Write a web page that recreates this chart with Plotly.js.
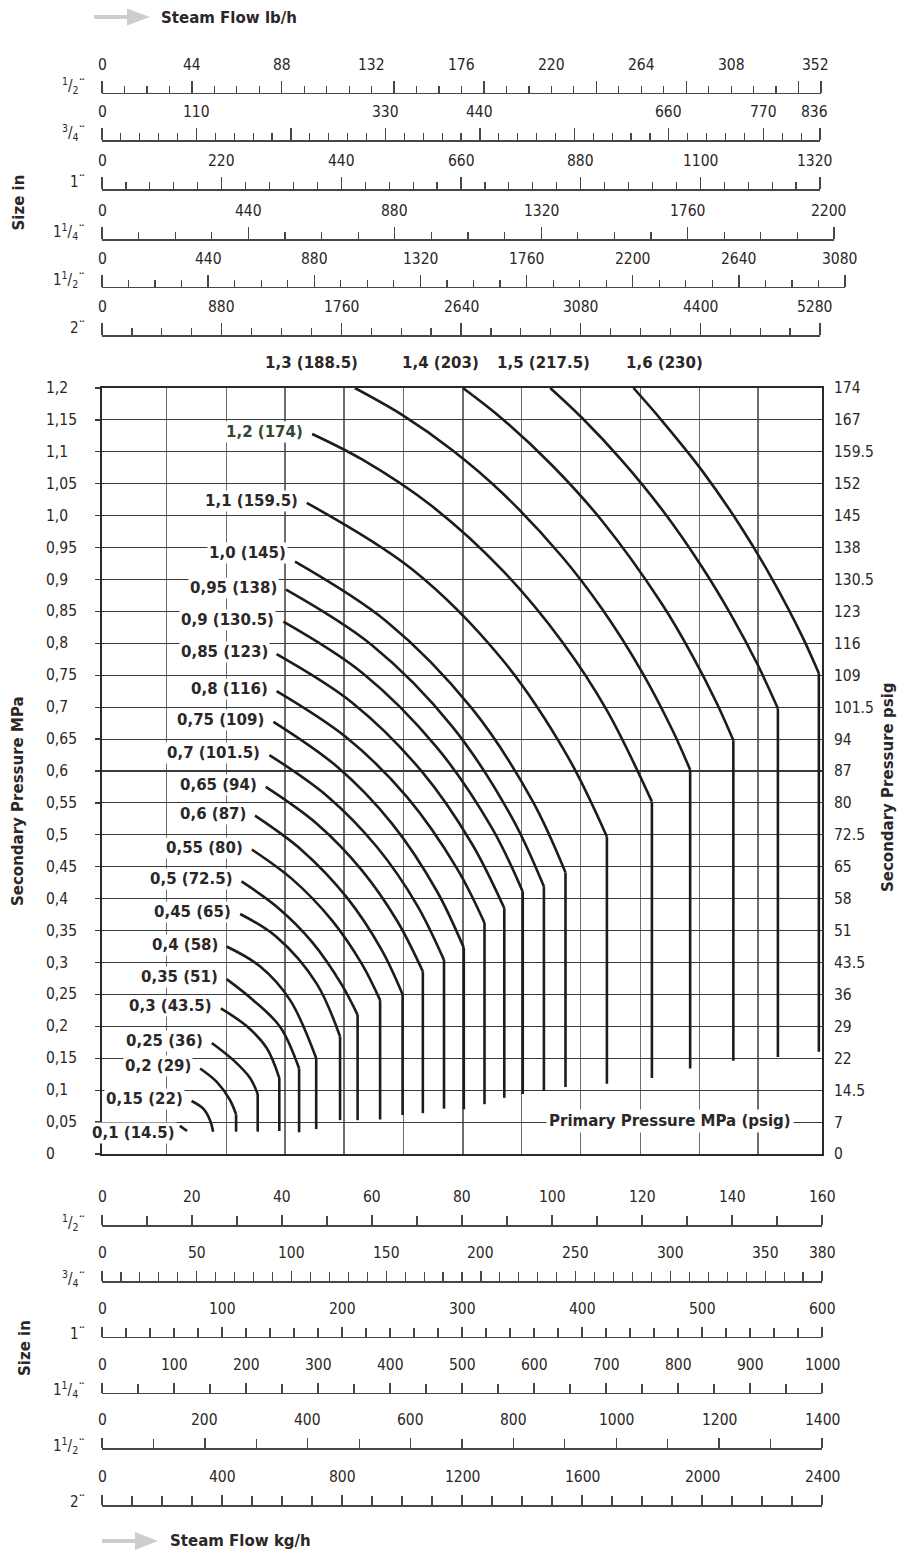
<!DOCTYPE html>
<html><head><meta charset="utf-8">
<script src="https://cdn.plot.ly/plotly-3.0.1.min.js"></script>
<style>html,body{margin:0;padding:0;background:#fff}#chart{width:913px;height:1562px}</style>
</head><body><div id="chart"></div>
<script>
// ===== DATA =====
// Secondary pressure curves: MPa (psig)
const curveLabels = ['0,1 (14.5)','0,15 (22)','0,2 (29)','0,25 (36)','0,3 (43.5)','0,35 (51)','0,4 (58)','0,45 (65)',
  '0,5 (72.5)','0,55 (80)','0,6 (87)','0,65 (94)','0,7 (101.5)','0,75 (109)','0,8 (116)','0,85 (123)','0,9 (130.5)',
  '0,95 (138)','1,0 (145)','1,1 (159.5)','1,2 (174)','1,3 (188.5)','1,4 (203)','1,5 (217.5)','1,6 (230)'];
// curved part: x = flow (kg/h, 1/2" scale), y = secondary pressure MPa
const arcX = [
 [17.3, 18.9],
 [19.9, 22.5, 24.0, 24.7],
 [21.8, 25.5, 28.4, 29.8],
 [24.4, 29.2, 32.9, 34.6],
 [26.4, 32.2, 36.6, 39.4],
 [27.7, 33.6, 39.6, 43.8],
 [27.7, 35.1, 41.8, 47.6],
 [30.7, 38.8, 47.7, 52.9],
 [31.0, 38.9, 46.7, 53.3, 56.8],
 [33.3, 42.2, 51.1, 57.8, 61.8],
 [34.0, 44.4, 54.4, 62.2, 66.8],
 [36.4, 47.8, 57.8, 65.6, 71.3],
 [37.2, 50.0, 61.1, 70.0, 76.0],
 [38.1, 52.2, 64.4, 74.4, 80.4],
 [38.8, 54.4, 67.8, 78.9, 85.0],
 [38.8, 55.6, 71.1, 82.2, 89.4],
 [40.3, 57.8, 74.4, 86.7, 93.5],
 [40.9, 60.0, 77.8, 91.1, 98.2],
 [42.9, 63.3, 82.2, 95.6, 103.0],
 [45.5, 68.9, 88.9, 103.3, 112.2],
 [46.7, 57.8, 73.3, 88.9, 102.2, 112.2, 122.2],
 [56.2, 66.7, 77.8, 88.9, 102.2, 111.1, 120.0, 126.7, 130.7],
 [80.2, 88.9, 100.0, 111.1, 124.4, 131.1, 136.7, 140.3],
 [99.6, 106.7, 115.6, 124.4, 133.3, 140.0, 145.6, 150.2],
 [118.1, 124.4, 133.3, 142.2, 148.9, 155.6, 159.3]
];
const arcY = [
 [0.044, 0.036],
 [0.083, 0.071, 0.053, 0.035],
 [0.134, 0.113, 0.085, 0.062],
 [0.174, 0.147, 0.119, 0.094],
 [0.228, 0.200, 0.166, 0.119],
 [0.274, 0.241, 0.199, 0.134],
 [0.325, 0.294, 0.241, 0.150],
 [0.376, 0.340, 0.267, 0.184],
 [0.427, 0.387, 0.332, 0.265, 0.218],
 [0.477, 0.431, 0.366, 0.297, 0.241],
 [0.530, 0.476, 0.402, 0.319, 0.250],
 [0.575, 0.517, 0.444, 0.365, 0.286],
 [0.625, 0.561, 0.481, 0.390, 0.304],
 [0.677, 0.607, 0.518, 0.412, 0.323],
 [0.725, 0.652, 0.559, 0.447, 0.362],
 [0.783, 0.707, 0.599, 0.486, 0.385],
 [0.834, 0.754, 0.637, 0.510, 0.411],
 [0.884, 0.797, 0.670, 0.527, 0.419],
 [0.928, 0.834, 0.698, 0.554, 0.441],
 [1.020, 0.916, 0.775, 0.625, 0.497],
 [1.128, 1.088, 1.015, 0.915, 0.803, 0.695, 0.552],
 [1.200, 1.158, 1.103, 1.036, 0.936, 0.854, 0.755, 0.665, 0.602],
 [1.200, 1.152, 1.079, 0.992, 0.862, 0.782, 0.705, 0.648],
 [1.200, 1.153, 1.086, 1.010, 0.920, 0.842, 0.768, 0.698],
 [1.200, 1.149, 1.071, 0.980, 0.901, 0.811, 0.753]
];
// lower end of the vertical part of each curve (MPa)
const dropEndY = [0.036,0.035,0.035,0.035,0.036,0.034,0.039,0.053,0.053,0.054,0.061,0.064,0.071,0.070,0.078,
  0.088,0.094,0.099,0.105,0.110,0.119,0.134,0.146,0.152,0.160];

const yTickVals = [0,0.05,0.1,0.15,0.2,0.25,0.3,0.35,0.4,0.45,0.5,0.55,0.6,0.65,0.7,0.75,0.8,0.85,0.9,0.95,1.0,1.05,1.1,1.15,1.2];
const yTickText = ['0','0,05','0,1','0,15','0,2','0,25','0,3','0,35','0,4','0,45','0,5','0,55','0,6','0,65','0,7','0,75',
  '0,8','0,85','0,9','0,95','1,0','1,05','1,1','1,15','1,2'];
const psigText = ['0','7','14.5','22','29','36','43.5','51','58','65','72.5','80','87','94','101.5','109','116','123',
  '130.5','138','145','152','159.5','167','174'];
const gridX = [14.4, 27.6, 40.7, 53.8, 67.0, 80.2, 93.3, 106.4, 119.6, 132.7, 145.8];

const sizeLabels = ['<sup>1</sup>/<sub>2</sub>¨','<sup>3</sup>/<sub>4</sub>¨','1¨','1<sup>1</sup>/<sub>4</sub>¨','1<sup>1</sup>/<sub>2</sub>¨','2¨'];

// Steam flow lb/h scales (top)
const lbMax = [352, 836, 1320, 2200, 3080, 5280];
const lbLabelVals = [[0,44,88,132,176,220,264,308,352],[0,110,330,440,660,770,836],[0,220,440,660,880,1100,1320],
  [0,440,880,1320,1760,2200],[0,440,880,1320,1760,2200,2640,3080],[0,880,1760,2640,3520,4400,5280]];
const lbLabelText = [['0','44','88','132','176','220','264','308','352'],['0','110','330','440','660','770','836'],
  ['0','220','440','660','880','1100','1320'],['0','440','880','1320','1760','2200'],
  ['0','440','880','1320','1760','2200','2640','3080'],['0','880','1760','2640','3080','4400','5280']];
const lbMajorTicks = [[0,44,88,143,187,242,286,341,352],[0,110,220,330,440,550,660,770,836],[0,220,440,660,880,1100,1320],
  [0,440,880,1320,1760,2200],[0,440,880,1320,1760,2200,2640,3080],[0,880,1760,2640,3520,4400,5280]];
const lbMinorStep = [11, 22, 44, 110, 110, 220];

// Steam flow kg/h scales (bottom)
const kgMax = [160, 380, 600, 1000, 1400, 2400];
const kgLabelVals = [[0,20,40,60,80,100,120,140,160],[0,50,100,150,200,250,300,350,380],[0,100,200,300,400,500,600],
  [0,100,200,300,400,500,600,700,800,900,1000],[0,200,400,600,800,1000,1200,1400],[0,400,800,1200,1600,2000,2400]];
const kgMinorStep = [10, 10, 20, 50, 100, 100];

// ===== LAYOUT HELPERS =====
const H = 1562, PL = 102, PW = 748;
const X = px => (px - PL) / PW;
const Y = py => 1 - py / H;
const NARROW = '"Liberation Sans Narrow", "DejaVu Sans Condensed", "Liberation Sans", sans-serif';
const BOLD = '"DejaVu Sans", Verdana, sans-serif';
const TXT = '#2b2727', SC = '#4b4646', CURVE = '#201b1b';
const TICKFS = 15.5;

const traces = [];
const annotations = [];
const shapes = [];

// curves
for (let i = 0; i < arcX.length; i++) {
  traces.push({type:'scatter', mode:'lines', x: arcX[i], y: arcY[i], xaxis:'x', yaxis:'y',
    line:{color:CURVE, width:2.6, shape:'spline', smoothing:1}, hoverinfo:'skip'});
  const n = arcX[i].length - 1;
  if (dropEndY[i] < arcY[i][n] - 0.002) {
    traces.push({type:'scatter', mode:'lines', x:[arcX[i][n], arcX[i][n]], y:[arcY[i][n], dropEndY[i]],
      xaxis:'x', yaxis:'y', line:{color:CURVE, width:2.6}, hoverinfo:'skip'});
  }
}
// dummy for psig axis
traces.push({type:'scatter', mode:'markers', x:[0], y:[0], xaxis:'x', yaxis:'y2', marker:{opacity:0}, hoverinfo:'skip'});

// curve labels
const topLabelCx = [311, 440, 543.7, 664.2];
for (let i = 0; i < curveLabels.length; i++) {
  if (i < 21) {
    annotations.push({xref:'x', yref:'y', x: arcX[i][0], y: arcY[i][0], xanchor:'right', yanchor:'middle',
      xshift: i === 0 ? -3 : -7, yshift: i === 0 ? -7 : (i === 18 ? 9 : 2),
      text:'<b>' + curveLabels[i] + '</b>', showarrow:false, bgcolor:'#ffffff', borderpad:1,
      font:{family:BOLD, size:15, color: i === 20 ? '#2f4a2f' : TXT}});
  } else {
    annotations.push({xref:'paper', yref:'paper', x: X(topLabelCx[i-21]), y: Y(363), xanchor:'center', yanchor:'middle',
      text:'<b>' + curveLabels[i] + '</b>', showarrow:false, font:{family:BOLD, size:15, color:TXT}});
  }
}

// left MPa tick labels (left aligned)
yTickVals.forEach((v, k) => annotations.push({xref:'paper', yref:'y', x: X(44), y: v, xanchor:'left', yanchor:'middle',
  text: yTickText[k], showarrow:false, font:{family:NARROW, size:TICKFS, color:TXT}}));

const layout = {
  width: 913, height: 1562, margin:{l:PL, r:913-PL-PW, t:0, b:0},
  paper_bgcolor:'#ffffff', plot_bgcolor:'rgba(0,0,0,0)', showlegend:false,
  font:{family:NARROW, size:TICKFS, color:TXT},
  xaxis:{domain:[0, X(822)], range:[0,160], tickmode:'array', tickvals:gridX, showticklabels:false, ticks:'',
    showgrid:true, gridcolor:'#6e6e6e', gridwidth:1.3, zeroline:false, showline:true, mirror:true,
    linecolor:'#2a2a2a', linewidth:1.7, fixedrange:true},
  yaxis:{domain:[Y(1154), Y(388)], range:[0,1.2], tickmode:'array', tickvals:yTickVals, showticklabels:false,
    ticks:'outside', ticklen:5, tickwidth:1.2, tickcolor:'#3a3a3a', showgrid:true, gridcolor:'#3a3a3a', gridwidth:1.15,
    zeroline:false, showline:true, mirror:true, linecolor:'#2a2a2a', linewidth:1.7, fixedrange:true},
  yaxis2:{overlaying:'y', side:'right', anchor:'x', range:[0,1.2], tickmode:'array', tickvals:yTickVals, ticktext:psigText,
    showgrid:false, zeroline:false, showline:false, ticks:'', ticklabelstandoff:11,
    tickfont:{family:NARROW, size:TICKFS, color:TXT}, fixedrange:true},
  yaxis3:{visible:false, domain:[0,1], range:[0,1], fixedrange:true},
  annotations: annotations, shapes: shapes
};

// flow scales
const topLineY = [92.7, 140, 189, 239, 286.7, 335];
const topEndPx = [821, 820, 820, 834, 845, 820];
const botLineY = [1225, 1281, 1336.7, 1392.7, 1448.3, 1505];
const botEndPx = [822, 822, 822, 822, 822, 822];

function addScale(axNum, max, lineY, endPx, majors, minorStep, labVals, labText, tallLen, shortLen, lastShift, sizeLab, sizeDy) {
  const name = 'xaxis' + axNum, ref = 'x' + axNum;
  layout[name] = {anchor:'free', position: Y(lineY), side:'top', domain:[0, X(endPx)], range:[0, max],
    showline:true, linecolor:SC, linewidth:1.5, ticks:'outside', tickmode:'array', tickvals: majors,
    ticklen: tallLen, tickwidth:1.3, tickcolor:SC, showticklabels:false, showgrid:false, zeroline:false, fixedrange:true,
    minor:{ticks:'outside', tick0:0, dtick:minorStep, ticklen:shortLen, tickwidth:1.2, tickcolor:SC, showgrid:false}};
  traces.push({type:'scatter', mode:'lines', x:[0, max], y:[0, 0], xaxis: ref, yaxis:'y3', line:{width:0}, hoverinfo:'skip'});
  labVals.forEach((v, k) => annotations.push({xref: ref, yref:'paper', x: v, y: Y(lineY - 28), xanchor:'center', yanchor:'middle',
    xshift: (k === labVals.length - 1) ? lastShift : 0,
    text: labText[k], showarrow:false, font:{family:NARROW, size:TICKFS, color:TXT}}));
  annotations.push({xref:'paper', yref:'paper', x: X(87), y: Y(lineY - sizeDy), xanchor:'right', yanchor:'middle',
    text: sizeLab, showarrow:false, font:{family:NARROW, size:15, color:TXT}});
}
for (let r = 0; r < 6; r++) {
  addScale(2 + r, lbMax[r], topLineY[r], topEndPx[r], lbMajorTicks[r], lbMinorStep[r], lbLabelVals[r], lbLabelText[r], 12, 7, -6, sizeLabels[r], 7);
  addScale(8 + r, kgMax[r], botLineY[r], botEndPx[r], kgLabelVals[r], kgMinorStep[r], kgLabelVals[r], kgLabelVals[r].map(String), 10, 9, 0, sizeLabels[r], 3);
}

// titles
const bold = (t) => '<b>' + t + '</b>';
annotations.push({xref:'paper', yref:'paper', x:X(159), y:Y(18), xanchor:'left', yanchor:'middle', text:bold('Steam Flow lb/h'),
  showarrow:false, font:{family:BOLD, size:15, color:TXT}});
annotations.push({xref:'paper', yref:'paper', x:X(168), y:Y(1541), xanchor:'left', yanchor:'middle', text:bold('Steam Flow kg/h'),
  showarrow:false, font:{family:BOLD, size:15, color:TXT}});
annotations.push({xref:'paper', yref:'paper', x:X(18.5), y:Y(203), xanchor:'center', yanchor:'middle', textangle:-90,
  text:bold('Size in'), showarrow:false, font:{family:BOLD, size:15, color:TXT}});
annotations.push({xref:'paper', yref:'paper', x:X(25), y:Y(1348), xanchor:'center', yanchor:'middle', textangle:-90,
  text:bold('Size in'), showarrow:false, font:{family:BOLD, size:15, color:TXT}});
annotations.push({xref:'paper', yref:'paper', x:X(18), y:Y(801), xanchor:'center', yanchor:'middle', textangle:-90,
  text:bold('Secondary Pressure MPa'), showarrow:false, font:{family:BOLD, size:15, color:TXT}});
annotations.push({xref:'paper', yref:'paper', x:X(888), y:Y(787), xanchor:'center', yanchor:'middle', textangle:-90,
  text:bold('Secondary Pressure psig'), showarrow:false, font:{family:BOLD, size:15, color:TXT}});
annotations.push({xref:'paper', yref:'paper', x:X(670), y:Y(1121), xanchor:'center', yanchor:'middle',
  text:bold('Primary Pressure MPa (psig)'), showarrow:false, bgcolor:'#ffffff', borderpad:2,
  font:{family:BOLD, size:15, color:TXT}});

// gray arrows
function arrow(x0, xh, x1, yc, half, th) {
  shapes.push({type:'rect', xref:'paper', yref:'paper', x0:X(x0), x1:X(xh + 1), y0:Y(yc + th/2), y1:Y(yc - th/2),
    fillcolor:'#cdcdcd', line:{width:0}});
  shapes.push({type:'path', xref:'paper', yref:'paper',
    path:`M ${X(xh)},${Y(yc - half)} L ${X(x1)},${Y(yc)} L ${X(xh)},${Y(yc + half)} Z`, fillcolor:'#cdcdcd', line:{width:0}});
}
arrow(94, 127, 150, 17, 8.5, 4);
arrow(102, 135, 158, 1541, 9, 4);

Plotly.newPlot('chart', traces, layout, {staticPlot:true, displayModeBar:false});
</script></body></html>
